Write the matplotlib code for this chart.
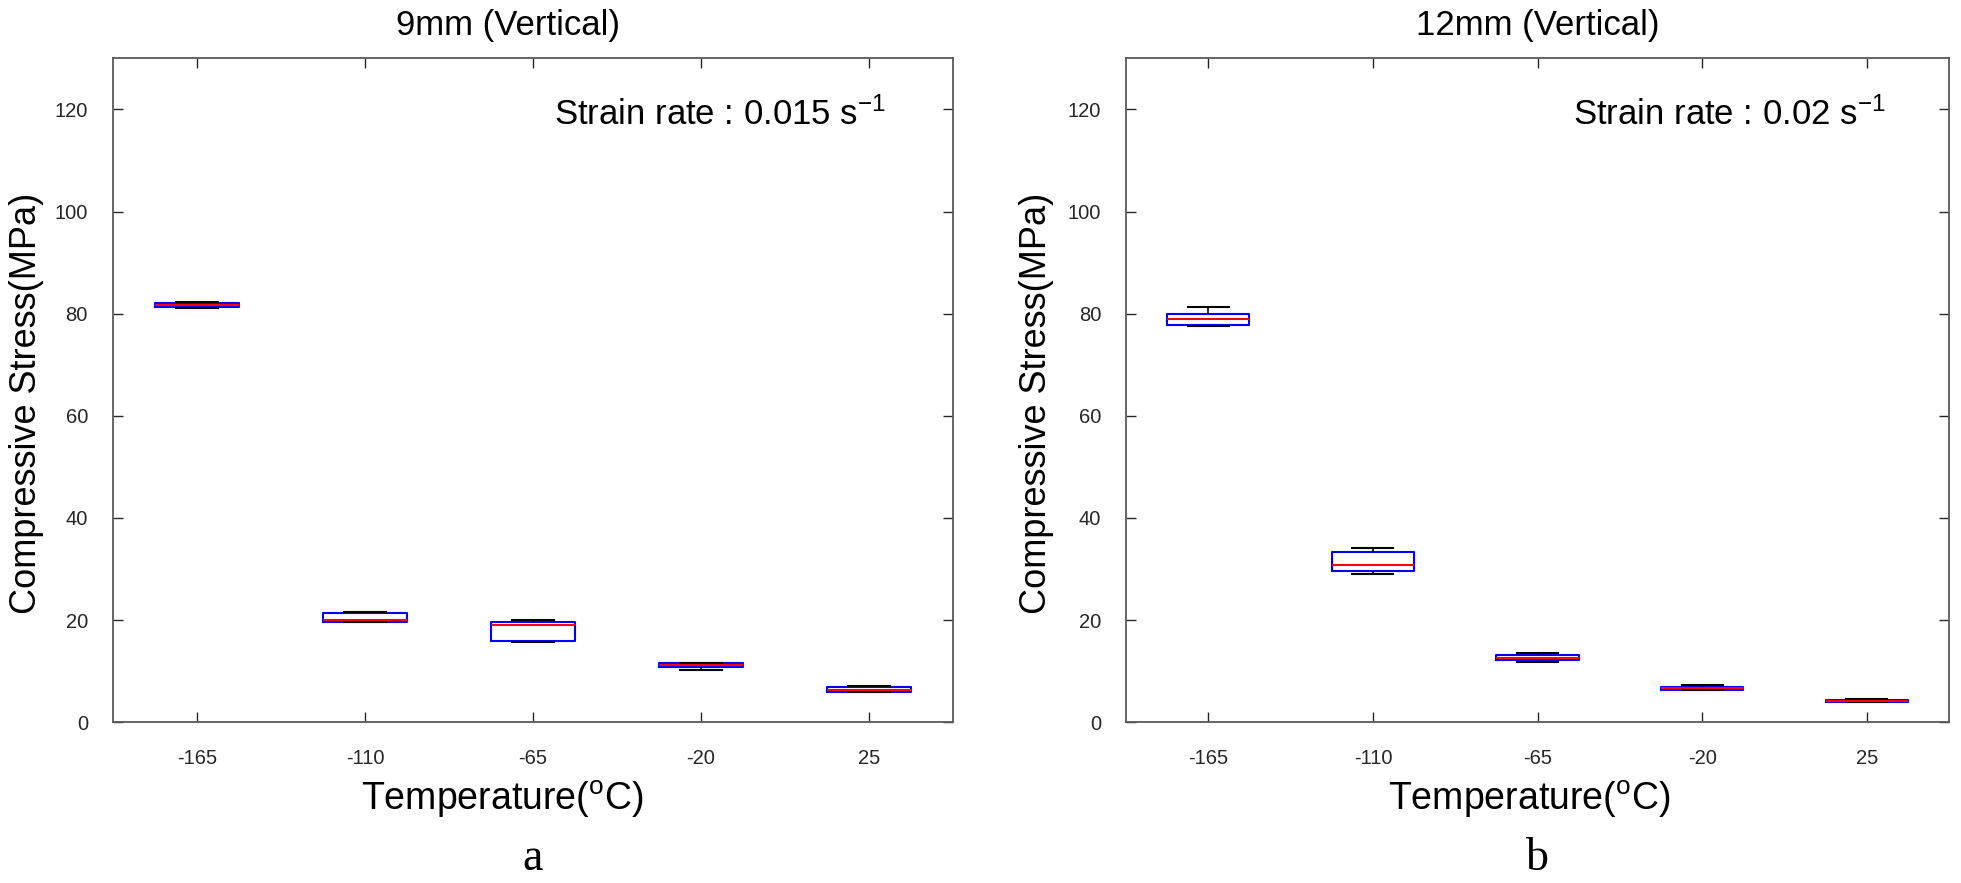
import matplotlib
matplotlib.use("Agg")
import matplotlib.pyplot as plt

plt.rcParams['font.family'] = ['Liberation Sans', 'DejaVu Sans']
plt.rcParams['axes.unicode_minus'] = False

temps = ['-165', '-110', '-65', '-20', '25']

# 9mm (Vertical), strain rate 0.015 s-1
a_whislo = [81.2, 19.7, 15.7, 10.3, 6.0]
a_q1 = [81.3, 19.7, 16.0, 10.9, 6.0]
a_med = [81.7, 20.0, 19.0, 11.2, 6.3]
a_q3 = [82.1, 21.3, 19.7, 11.6, 6.9]
a_whishi = [82.3, 21.6, 20.0, 11.6, 7.2]

# 12mm (Vertical), strain rate 0.02 s-1
b_whislo = [77.6, 29.0, 11.9, 6.3, 3.9]
b_q1 = [77.8, 29.6, 12.2, 6.4, 4.0]
b_med = [78.9, 30.8, 12.6, 6.7, 4.2]
b_q3 = [80.0, 33.3, 13.1, 7.0, 4.4]
b_whishi = [81.3, 34.1, 13.6, 7.3, 4.6]


def make_stats(lo, q1, med, q3, hi):
    stats = []
    for i in range(len(lo)):
        stats.append({'whislo': lo[i], 'q1': q1[i], 'med': med[i],
                      'q3': q3[i], 'whishi': hi[i], 'fliers': []})
    return stats


def draw_panel(ax, stats, title, rate_text, title_x, xlab_x, text_x, ylab_x, letter):
    ax.bxp(stats, positions=range(1, 6), widths=0.5, showfliers=False,
           boxprops=dict(color='blue', linewidth=1.5),
           medianprops=dict(color='red', linewidth=1.5),
           whiskerprops=dict(color='black', linewidth=1.2, linestyle='--'),
           capprops=dict(color='black', linewidth=1.5),
           capwidths=0.25)
    ax.set_xlim(0.5, 5.5)
    ax.set_ylim(0, 130)
    ax.set_xticks(range(1, 6))
    ax.set_xticklabels(temps)
    ax.set_yticks(range(0, 121, 20))
    ax.tick_params(direction='in', top=True, right=True, length=7,
                   labelsize=14.5, colors='0.15', width=1.0)
    ax.tick_params(axis='x', pad=19)
    ax.tick_params(axis='y', pad=18)
    for s in ax.spines.values():
        s.set_color('0.35')
        s.set_linewidth(1.3)
    ax.set_title(title, fontsize=25, x=title_x, pad=17)
    ax.set_xlabel(r'Temperature($\mathregular{^o}$C)', fontsize=27, labelpad=12)
    ax.xaxis.set_label_coords(xlab_x, -0.085)
    ax.set_ylabel('Compressive Stress(MPa)', fontsize=26)
    ax.yaxis.set_label_coords(ylab_x, 0.48)
    ax.text(text_x, 119, rate_text, fontsize=25, ha='right', va='center',
            transform=ax.get_yaxis_transform())
    ax.text(0.5, -0.205, letter, fontsize=33, ha='center', va='center',
            family='Liberation Serif', transform=ax.transAxes)


fig = plt.figure(figsize=(19.61, 8.83), dpi=100)
ax1 = fig.add_axes([0.0576, 0.182, 0.4284, 0.752])
ax2 = fig.add_axes([0.5742, 0.182, 0.4197, 0.752])

draw_panel(ax1, make_stats(a_whislo, a_q1, a_med, a_q3, a_whishi),
           '9mm (Vertical)', r'Strain rate : 0.015 s$\mathregular{^{-1}}$',
           0.47, 0.463, 0.92, -0.082, 'a')
draw_panel(ax2, make_stats(b_whislo, b_q1, b_med, b_q3, b_whishi),
           '12mm (Vertical)', r'Strain rate : 0.02 s$\mathregular{^{-1}}$',
           0.5, 0.49, 0.923, -0.0875, 'b')

fig.savefig('out.png', dpi=100)
